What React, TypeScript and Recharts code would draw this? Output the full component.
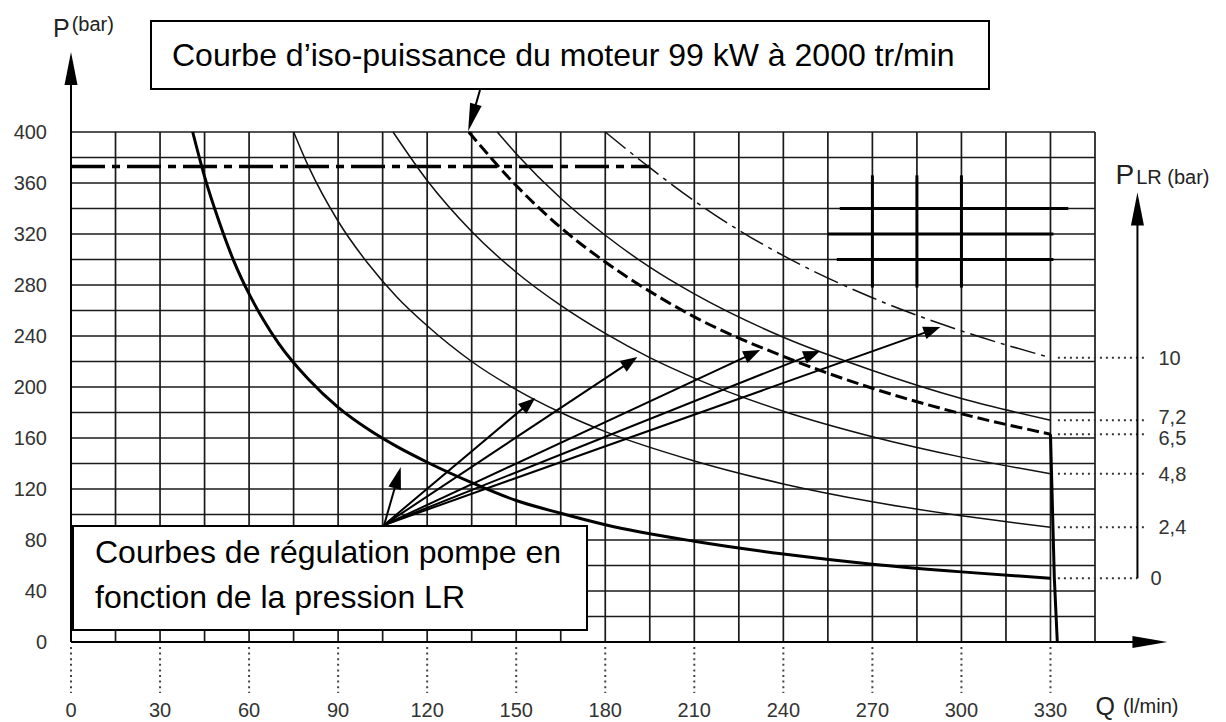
import React from "react";
import { LineChart, Line, XAxis, YAxis, CartesianGrid, ReferenceLine } from "recharts";

const Q_GRID = [0, 15, 30, 45, 60, 75, 90, 105, 120, 135, 150, 165, 180, 195, 210, 225, 240, 255, 270, 285, 300, 315, 330, 345];
const P_GRID = [0, 20, 40, 60, 80, 100, 120, 140, 160, 180, 200, 220, 240, 260, 280, 300, 320, 340, 360, 380, 400];
const Q_LABELS = [0, 30, 60, 90, 120, 150, 180, 210, 240, 270, 300, 330];
const P_LABELS = [0, 40, 80, 120, 160, 200, 240, 280, 320, 360, 400];

// courbes de régulation : [Q (l/min), P (bar)]
const LR_0 = [[41, 400], [45, 365], [50, 329], [55, 298], [60, 273], [65, 252], [70, 234], [80, 206], [90, 184], [100, 167], [110, 153], [120, 141], [135, 125], [150, 111], [165, 101], [180, 92], [210, 79], [240, 69], [270, 61], [300, 55], [330, 50]];
const LR_2_4 = [[75, 400], [80, 373], [90, 330], [100, 297], [110, 270], [120, 248], [135, 220], [150, 198], [165, 180], [180, 165], [210, 142], [240, 124], [270, 110], [300, 99], [330, 90]];
const LR_4_8 = [[108.5, 400], [120, 362], [135, 322], [150, 290], [165, 264], [180, 242], [195, 223], [210, 207], [240, 181], [270, 161], [300, 145], [330, 132]];
const LR_6_5 = [[134, 400], [150, 358], [165, 325], [180, 298], [195, 275], [210, 255], [240, 224], [270, 199], [300, 179], [330, 163]];
const LR_7_2 = [[143.6, 400], [150, 383], [165, 348], [180, 319], [195, 294], [210, 273], [240, 239], [270, 213], [300, 191], [330, 174]];
const LR_10 = [[180, 400], [195, 372], [210, 346], [225, 323], [240, 303], [270, 270], [300, 244], [330, 223]];
const CUT_OFF = [[330, 163], [331.3, 50], [332.3, 0]];
const P_LIMIT = [[0, 373], [195, 373]];

const LR_LABELS = ["10", "7,2", "6,5", "4,8", "2,4", "0"];
const LR_END_P = [223, 174, 163, 132, 90, 50];
const LR_LABEL_SHIFT = [0, -3, 4, 0, 0, 0];

const FAN_FROM = [105.5, 91.8];
const FAN_TO = [[156.4, 191.4], [190.8, 223.5], [232.2, 229], [252.4, 228.2], [292.9, 247]];
const SMALL_TO = [111.1, 137.2];
const ISO_ARROW = [[137.8, 433], [133.8, 400.6]];

const MARK_V = [270, 285, 300];
const MARK_H = [[340, 259, 336], [320, 255, 331], [300, 258, 331]];

const FONT = "'Liberation Sans', Arial, sans-serif";
const toData = (pts: number[][]) => pts.map(([q, p]) => ({ q, p }));

type Seg = { x1: number; y1: number; x2: number; y2: number };

function arrow(head: number, half: number, w: number, extra?: (s: Seg) => React.ReactNode) {
  return (props: any) => {
    const { x1, y1, x2, y2 } = props;
    const dx = x2 - x1;
    const dy = y2 - y1;
    const len = Math.hypot(dx, dy) || 1;
    const ux = dx / len;
    const uy = dy / len;
    const bx = x2 - ux * head;
    const by = y2 - uy * head;
    const px = -uy * half;
    const py = ux * half;
    return (
      <g>
        <line x1={x1} y1={y1} x2={bx + ux * 2} y2={by + uy * 2} stroke="#000" strokeWidth={w} />
        <polygon points={`${x2},${y2} ${bx + px},${by + py} ${bx - px},${by - py}`} fill="#000" />
        {extra && extra({ x1, y1, x2, y2 })}
      </g>
    );
  };
}

const lrLine = (label: string, shift: number) => (props: any) => {
  const { x1, y1, x2, y2 } = props;
  return (
    <g>
      <line x1={x1} y1={y1} x2={x2} y2={y2} stroke="#333" strokeWidth={2} strokeDasharray="2 4" />
      <text x={x2 + 13} y={y2 + 7 + shift} fontSize={20} fill="#333" fontFamily={FONT}>
        {label}
      </text>
    </g>
  );
};

const QTick = (props: any) => {
  const { x, y, payload } = props;
  if (!Q_LABELS.includes(payload.value)) return <g />;
  return (
    <g>
      <line x1={x} x2={x} y1={y + 5} y2={y + 51} stroke="#444" strokeWidth={2} strokeDasharray="2 3.6" />
      <text x={x} y={y + 75} textAnchor="middle" fontSize={20} fill="#333" fontFamily={FONT}>
        {payload.value}
      </text>
    </g>
  );
};

const PTick = (props: any) => {
  const { x, y, payload } = props;
  if (!P_LABELS.includes(payload.value)) return <g />;
  return (
    <text x={x - 24} y={y + 7} textAnchor="end" fontSize={20} fill="#333" fontFamily={FONT}>
      {payload.value}
    </text>
  );
};

const pLabel = ({ x2, y2 }: Seg) => (
  <text x={x2 - 18} y={y2 - 15} fill="#222" fontFamily={FONT}>
    <tspan fontSize={25}>P</tspan>
    <tspan fontSize={20} dx={2} dy={-6}>(bar)</tspan>
  </text>
);

const plrLabel = ({ x2, y2 }: Seg) => (
  <text x={x2 - 22} y={y2 - 9} fill="#222" fontFamily={FONT}>
    <tspan fontSize={28}>P</tspan>
    <tspan fontSize={20} dx={2}>LR (bar)</tspan>
  </text>
);

const qLabel = ({ x2, y2 }: Seg) => (
  <text x={x2 - 72} y={y2 + 73} fill="#222" fontFamily={FONT}>
    <tspan fontSize={25}>Q</tspan>
    <tspan fontSize={20} dx={8} dy={-2}>(l/min)</tspan>
  </text>
);

export default function App() {
  return (
    <div style={{ position: "relative", width: 1210, height: 714, background: "#fff", fontFamily: FONT }}>
      <LineChart width={1210} height={714} margin={{ top: 124, right: 123, bottom: 20, left: 13 }}>
        <CartesianGrid stroke="#1a1a1a" strokeWidth={1.7} />
        <XAxis
          type="number"
          dataKey="q"
          domain={[0, 345]}
          ticks={Q_GRID}
          interval={0}
          axisLine={false}
          tickLine={false}
          tickSize={0}
          tickMargin={0}
          height={60}
          tick={<QTick />}
        />
        <YAxis
          type="number"
          domain={[0, 400]}
          ticks={P_GRID}
          interval={0}
          axisLine={false}
          tickLine={false}
          tickSize={0}
          tickMargin={0}
          width={50}
          tick={<PTick />}
        />

        {MARK_V.map((q) => (
          <ReferenceLine key={`mv${q}`} segment={[{ x: q, y: 278 }, { x: q, y: 366 }]} stroke="#000" strokeWidth={3} />
        ))}
        {MARK_H.map(([p, a, b]) => (
          <ReferenceLine key={`mh${p}`} segment={[{ x: a, y: p }, { x: b, y: p }]} stroke="#000" strokeWidth={3} />
        ))}

        <Line data={toData(P_LIMIT)} dataKey="p" type="linear" stroke="#000" strokeWidth={3.5} strokeDasharray="34 7 8 7" dot={false} isAnimationActive={false} />
        <Line data={toData(LR_10)} dataKey="p" type="monotone" stroke="#111" strokeWidth={1.5} strokeDasharray="26 6 4 6" dot={false} isAnimationActive={false} />
        <Line data={toData(LR_7_2)} dataKey="p" type="monotone" stroke="#111" strokeWidth={1.5} dot={false} isAnimationActive={false} />
        <Line data={toData(LR_6_5)} dataKey="p" type="monotone" stroke="#000" strokeWidth={3} strokeDasharray="12 5" dot={false} isAnimationActive={false} />
        <Line data={toData(LR_4_8)} dataKey="p" type="monotone" stroke="#111" strokeWidth={1.5} dot={false} isAnimationActive={false} />
        <Line data={toData(LR_2_4)} dataKey="p" type="monotone" stroke="#111" strokeWidth={1.5} dot={false} isAnimationActive={false} />
        <Line data={toData(LR_0)} dataKey="p" type="monotone" stroke="#000" strokeWidth={3} dot={false} isAnimationActive={false} />
        <Line data={toData(CUT_OFF)} dataKey="p" type="linear" stroke="#000" strokeWidth={3} dot={false} isAnimationActive={false} />

        {LR_LABELS.map((label, i) => (
          <ReferenceLine
            key={`lr${label}`}
            segment={[{ x: 332.5, y: LR_END_P[i] }, { x: i === 5 ? 359.3 : 362, y: LR_END_P[i] }]}
            ifOverflow="visible"
            shape={lrLine(label, LR_LABEL_SHIFT[i])}
          />
        ))}

        <ReferenceLine segment={[{ x: 0, y: 0 }, { x: 0, y: 462.7 }]} ifOverflow="visible" shape={arrow(33, 6.5, 2, pLabel)} />
        <ReferenceLine segment={[{ x: 0, y: 0 }, { x: 369.4, y: 0 }]} ifOverflow="visible" shape={arrow(35, 6, 2, qLabel)} />
        <ReferenceLine segment={[{ x: 359.3, y: 50 }, { x: 359.3, y: 352.5 }]} ifOverflow="visible" shape={arrow(33, 6.5, 2, plrLabel)} />

        <ReferenceLine
          segment={[{ x: ISO_ARROW[0][0], y: ISO_ARROW[0][1] }, { x: ISO_ARROW[1][0], y: ISO_ARROW[1][1] }]}
          ifOverflow="visible"
          shape={arrow(28, 6, 2)}
        />
        <ReferenceLine
          segment={[{ x: FAN_FROM[0], y: FAN_FROM[1] }, { x: SMALL_TO[0], y: SMALL_TO[1] }]}
          ifOverflow="visible"
          shape={arrow(22, 6.5, 2)}
        />
        {FAN_TO.map(([q, p], i) => (
          <ReferenceLine
            key={`fan${i}`}
            segment={[{ x: FAN_FROM[0], y: FAN_FROM[1] }, { x: q, y: p }]}
            ifOverflow="visible"
            shape={arrow(17, 6.5, 2)}
          />
        ))}
      </LineChart>

      <div
        style={{
          position: "absolute",
          left: 142,
          top: 12,
          width: 840,
          height: 70,
          boxSizing: "border-box",
          border: "2px solid #000",
          background: "#fff",
          display: "flex",
          alignItems: "center",
          paddingLeft: 20,
          fontSize: 32,
          color: "#000",
          whiteSpace: "nowrap",
        }}
      >
        Courbe d’iso-puissance du moteur 99 kW à 2000 tr/min
      </div>
      <div
        style={{
          position: "absolute",
          left: 64,
          top: 517,
          width: 516,
          height: 106,
          boxSizing: "border-box",
          border: "2px solid #000",
          background: "#fff",
          padding: "3px 0 0 21px",
          fontSize: 32,
          lineHeight: "45px",
          color: "#000",
          whiteSpace: "nowrap",
        }}
      >
        Courbes de régulation pompe en
        <br />
        fonction de la pression LR
      </div>
    </div>
  );
}
